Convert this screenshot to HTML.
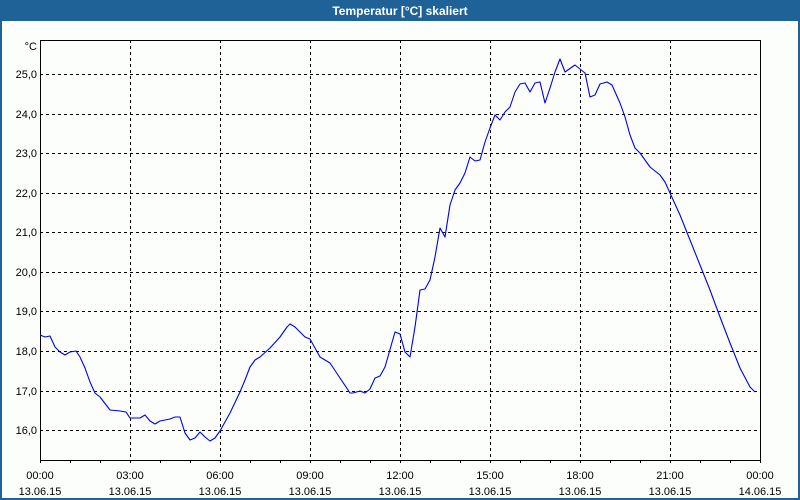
<!DOCTYPE html>
<html><head><meta charset="utf-8"><style>
html,body{margin:0;padding:0;background:#fff;}
svg{display:block;font-family:"Liberation Sans",sans-serif;}
</style></head><body>
<svg width="800" height="500" xmlns="http://www.w3.org/2000/svg">
<rect x="0" y="0" width="800" height="500" fill="#fcfefc"/>
<rect x="0" y="0" width="800" height="21" fill="#1e6297"/>
<rect x="0" y="0" width="2" height="500" fill="#1e6297"/>
<rect x="798" y="0" width="2" height="500" fill="#1e6297"/>
<rect x="0" y="498" width="800" height="2" fill="#1e6297"/>
<text x="400" y="15" fill="#fff" font-size="12" font-weight="bold" text-anchor="middle">Temperatur [°C] skaliert</text>
<g stroke="#000" stroke-width="1" stroke-dasharray="3,3" shape-rendering="crispEdges">
<line x1="40" y1="74.5" x2="760" y2="74.5"/>
<line x1="40" y1="114.5" x2="760" y2="114.5"/>
<line x1="40" y1="153.5" x2="760" y2="153.5"/>
<line x1="40" y1="193.5" x2="760" y2="193.5"/>
<line x1="40" y1="232.5" x2="760" y2="232.5"/>
<line x1="40" y1="272.5" x2="760" y2="272.5"/>
<line x1="40" y1="311.5" x2="760" y2="311.5"/>
<line x1="40" y1="351.5" x2="760" y2="351.5"/>
<line x1="40" y1="391.5" x2="760" y2="391.5"/>
<line x1="40" y1="430.5" x2="760" y2="430.5"/>
<line x1="130.5" y1="40" x2="130.5" y2="460"/>
<line x1="220.5" y1="40" x2="220.5" y2="460"/>
<line x1="310.5" y1="40" x2="310.5" y2="460"/>
<line x1="400.5" y1="40" x2="400.5" y2="460"/>
<line x1="490.5" y1="40" x2="490.5" y2="460"/>
<line x1="580.5" y1="40" x2="580.5" y2="460"/>
<line x1="670.5" y1="40" x2="670.5" y2="460"/>
</g>
<rect x="40.5" y="40.5" width="720" height="420" fill="none" stroke="#000" stroke-width="1" shape-rendering="crispEdges"/>
<g stroke="#000" shape-rendering="crispEdges">
<path d="M70.5 460v3M100.5 460v3M130.5 460v3M160.5 460v3M190.5 460v3M220.5 460v3M250.5 460v3M280.5 460v3M310.5 460v3M340.5 460v3M370.5 460v3M400.5 460v3M430.5 460v3M460.5 460v3M490.5 460v3M520.5 460v3M550.5 460v3M580.5 460v3M610.5 460v3M640.5 460v3M670.5 460v3M700.5 460v3M730.5 460v3M40.5 460v3M760.5 460v3"/>
</g>
<polyline fill="none" stroke="#0000ee" stroke-width="1.1" stroke-linejoin="round" points="40,335 45,337 50,336 55,347 60,352 65,355 70,352 76,351 80,357 85,368 90,382 95,393 100,397 110,410 120,411 126,412 130,418 140,418 145,415 150,421 155,424 160,421 170,419 175,417 180,417 185,433 190,440 195,438 200,432 205,437 210,441 215,438 220,431 230,413 240,392 245,380 250,367 255,360 260,357 270,348 280,337 287,327 290,324 295,327 305,337 310,339 320,357 330,363 340,378 350,393 353,393 360,391 365,393 370,389 375,378 380,376 385,367 395,332 400,334 405,352 410,357 415,327 420,290 425,289 430,280 435,257 440,228 445,237 450,205 455,190 460,183 465,173 470,157 475,161 480,160 485,142 490,128 495,115 500,120 505,112 510,107 515,92 520,84 525,83 530,92 535,83 540,82 545,103 550,88 555,72 560,59 565,72 575,65 585,73 590,97 595,95 600,84 607,82 612,85 620,103 625,117 630,135 635,148 640,153 650,167 660,175 665,182 670,193 680,215 690,240 700,265 710,290 720,317 730,343 740,368 750,387 755,392"/>
<g font-size="11" fill="#000" text-anchor="end">
<text x="37" y="50">°C</text>
<text x="37" y="78">25,0</text>
<text x="37" y="118">24,0</text>
<text x="37" y="157">23,0</text>
<text x="37" y="197">22,0</text>
<text x="37" y="236">21,0</text>
<text x="37" y="276">20,0</text>
<text x="37" y="315">19,0</text>
<text x="37" y="355">18,0</text>
<text x="37" y="395">17,0</text>
<text x="37" y="434">16,0</text>
</g>
<g font-size="11" fill="#000" text-anchor="middle">
<text x="40" y="479">00:00</text><text x="40" y="495">13.06.15</text>
<text x="130" y="479">03:00</text><text x="130" y="495">13.06.15</text>
<text x="220" y="479">06:00</text><text x="220" y="495">13.06.15</text>
<text x="310" y="479">09:00</text><text x="310" y="495">13.06.15</text>
<text x="400" y="479">12:00</text><text x="400" y="495">13.06.15</text>
<text x="490" y="479">15:00</text><text x="490" y="495">13.06.15</text>
<text x="580" y="479">18:00</text><text x="580" y="495">13.06.15</text>
<text x="670" y="479">21:00</text><text x="670" y="495">13.06.15</text>
<text x="760" y="479">00:00</text><text x="760" y="495">14.06.15</text>
</g>
</svg>
</body></html>
